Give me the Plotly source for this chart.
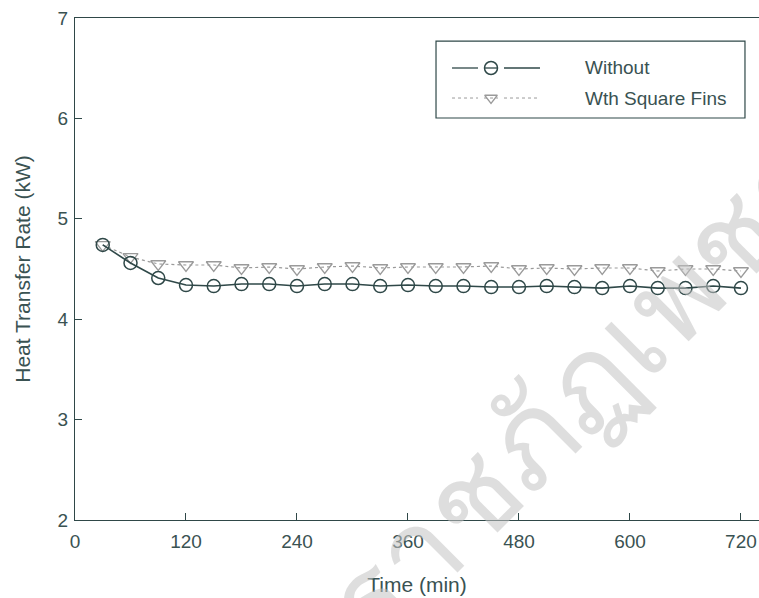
import plotly.graph_objects as go

time_min = [30, 60, 90, 120, 150, 180, 210, 240, 270, 300, 330, 360, 390, 420,
            450, 480, 510, 540, 570, 600, 630, 660, 690, 720]
without = [4.74, 4.56, 4.41, 4.34, 4.33, 4.35, 4.35, 4.33, 4.35, 4.35, 4.33, 4.34,
           4.33, 4.33, 4.32, 4.32, 4.33, 4.32, 4.31, 4.33, 4.31, 4.31, 4.33, 4.31]
square_fins = [4.74, 4.62, 4.55, 4.54, 4.54, 4.51, 4.52, 4.50, 4.52, 4.53, 4.51, 4.52,
               4.52, 4.52, 4.53, 4.50, 4.51, 4.50, 4.51, 4.51, 4.48, 4.50, 4.50, 4.48]
x_ticks = [0, 120, 240, 360, 480, 600, 720]
y_ticks = [2, 3, 4, 5, 6, 7]
series_names = ["Without", "Wth Square Fins"]

DARK = "#2f4848"
GRAY = "#9a9a9a"
TXT = "#3a5252"
FONT = "Liberation Sans, Arial, sans-serif"

fig = go.Figure()
fig.add_trace(go.Scatter(
    x=time_min, y=square_fins, mode="lines+markers", name=series_names[1],
    line=dict(color=GRAY, width=1.2, dash="dot"),
    marker=dict(symbol="triangle-down-open", size=13, color=GRAY, line=dict(width=1.3)),
    showlegend=False))
fig.add_trace(go.Scatter(
    x=time_min, y=without, mode="lines+markers", name=series_names[0],
    line=dict(color=DARK, width=1.6),
    marker=dict(symbol="circle-open", size=13, color=DARK, line=dict(width=1.5)),
    showlegend=False))

# custom legend (overlay axes spanning the plot area, range 0..1)
leg_rows = [0.9004, 0.8406]
fig.add_trace(go.Scatter(x=[0.6082], y=[leg_rows[0]], xaxis="x2", yaxis="y2", mode="markers",
                         marker=dict(symbol="circle-open", size=13, color=DARK, line=dict(width=1.5)),
                         showlegend=False, hoverinfo="skip"))
fig.add_trace(go.Scatter(x=[0.6082], y=[leg_rows[1]], xaxis="x2", yaxis="y2", mode="markers",
                         marker=dict(symbol="triangle-down-open", size=11, color=GRAY, line=dict(width=1.3)),
                         showlegend=False, hoverinfo="skip"))

shapes = [dict(type="rect", xref="paper", yref="paper", x0=0.5278, x1=0.9795, y0=0.8008, y1=0.954,
               line=dict(color=DARK, width=1.2), fillcolor="white", layer="below")]
for (a, b) in [(0.5512, 0.5892), (0.598, 0.6184), (0.6272, 0.6798)]:
    shapes.append(dict(type="line", xref="paper", yref="paper", x0=a, x1=b,
                       y0=leg_rows[0], y1=leg_rows[0], line=dict(color=DARK, width=1.3)))
    shapes.append(dict(type="line", xref="paper", yref="paper", x0=a, x1=b,
                       y0=leg_rows[1], y1=leg_rows[1], line=dict(color=GRAY, width=1, dash="dot")))

annotations = []
for name, yy in zip(series_names, leg_rows):
    annotations.append(dict(x=0.7427, y=yy, xref="paper", yref="paper", text=name, showarrow=False,
                            xanchor="left", yanchor="middle", font=dict(size=19, color=TXT, family=FONT)))
# watermark
annotations.append(dict(x=1.30, y=0.351, xref="paper", yref="paper", text="ราชภัฏเพชรบุรี",
                        showarrow=False, textangle=-45,
                        font=dict(size=122, color="rgba(195,195,195,0.55)")))

fig.update_layout(
    width=759, height=598,
    margin=dict(l=75, r=0, t=18, b=78),
    paper_bgcolor="white", plot_bgcolor="white",
    font=dict(family=FONT, color=TXT, size=19),
    shapes=shapes, annotations=annotations,
    xaxis=dict(range=[0, 739.5], tickvals=x_ticks, ticks="inside", ticklen=7, tickcolor=DARK,
               showline=True, linecolor=DARK, linewidth=1.3, mirror=True, showgrid=False,
               zeroline=False, tickfont=dict(size=19), ticklabelstandoff=4,
               ticklabeloverflow="allow",
               title=dict(text="Time (min)", font=dict(size=21), standoff=26)),
    yaxis=dict(range=[2, 7], tickvals=y_ticks, ticks="inside", ticklen=7, tickcolor=DARK,
               showline=True, linecolor=DARK, linewidth=1.3, showgrid=False, zeroline=False,
               tickfont=dict(size=19), ticklabelstandoff=2, ticklabeloverflow="allow",
               title=dict(text="Heat Transfer Rate (kW)", font=dict(size=21), standoff=21)),
    xaxis2=dict(range=[0, 1], overlaying="x", visible=False, fixedrange=True),
    yaxis2=dict(range=[0, 1], overlaying="y", visible=False, fixedrange=True),
)

fig.write_html("out.html", config={"displayModeBar": False},
               post_script="document.body.style.margin='0';document.body.style.overflow='hidden';")
